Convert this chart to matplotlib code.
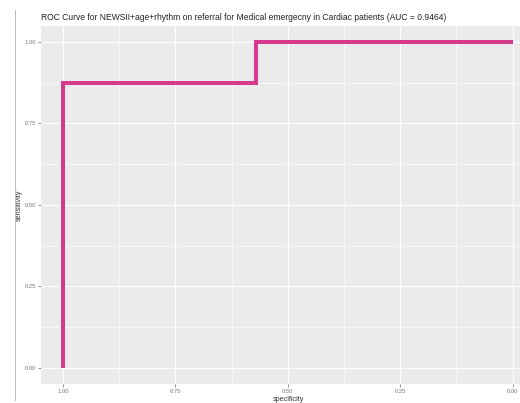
import matplotlib
matplotlib.use("Agg")
import matplotlib.pyplot as plt
from matplotlib.lines import Line2D
from matplotlib.ticker import MultipleLocator

# ROC data (specificity, sensitivity)
specificity = [1.0, 1.0, 1.0, 0.5714, 0.5714, 0.0]
sensitivity = [0.0, 0.875, 0.875, 0.875, 1.0, 1.0]
x_ticks = [1.00, 0.75, 0.50, 0.25, 0.00]
y_ticks = [0.00, 0.25, 0.50, 0.75, 1.00]
tick_labels = ["1.00", "0.75", "0.50", "0.25", "0.00"]
ytick_labels = ["0.00", "0.25", "0.50", "0.75", "1.00"]
title = "ROC Curve for NEWSII+age+rhythm on referral for Medical emergecny in Cardiac patients (AUC = 0.9464)"

plt.rcParams['font.family'] = ['Liberation Sans', 'DejaVu Sans']

W, H = 520, 403
fig = plt.figure(figsize=(W / 100, H / 100), dpi=100)
left, right, top, bottom = 41, 520, 25.7, 384
ax = fig.add_axes([left / W, (H - bottom) / H, (right - left) / W, (bottom - top) / H])
ax.set_facecolor("#EBEBEB")
for s in ax.spines.values():
    s.set_visible(False)

ax.set_xlim(1.049, -0.0165)
ax.set_ylim(-0.05, 1.05)
ax.set_xticks(x_ticks)
ax.set_xticklabels(tick_labels)
ax.set_yticks(y_ticks)
ax.set_yticklabels(ytick_labels)
ax.xaxis.set_minor_locator(MultipleLocator(0.125))
ax.yaxis.set_minor_locator(MultipleLocator(0.125))
ax.grid(which="major", color="white", linewidth=0.8)
ax.grid(which="minor", color="white", linewidth=0.4)
ax.set_axisbelow(True)
ax.tick_params(which="major", length=2, width=0.5, color="#666666",
               labelsize=4.2, labelcolor="#777777", pad=1.5)
ax.tick_params(which="minor", length=0)

ax.plot(specificity, sensitivity, color="#D63A8C", linewidth=2.9,
        solid_joinstyle="miter", solid_capstyle="butt")

ax.set_xlabel("specificity", fontsize=5.2, color="#333333")
ax.set_ylabel("sensitivity", fontsize=5.2, color="#333333")
ax.xaxis.set_label_coords((288 - left) / (right - left), -0.033)
ax.yaxis.set_label_coords((23 - left) / (right - left), 0.5)

fig.text(left / W, (H - 17) / H, title, fontsize=6.15, color="#222222",
         ha="left", va="center")

fig.add_artist(Line2D([15 / W, 15 / W], [3 / H, (H - 10) / H], color="#BBBBBB",
                      linewidth=0.7, transform=fig.transFigure))

fig.savefig("out.png", dpi=100)
